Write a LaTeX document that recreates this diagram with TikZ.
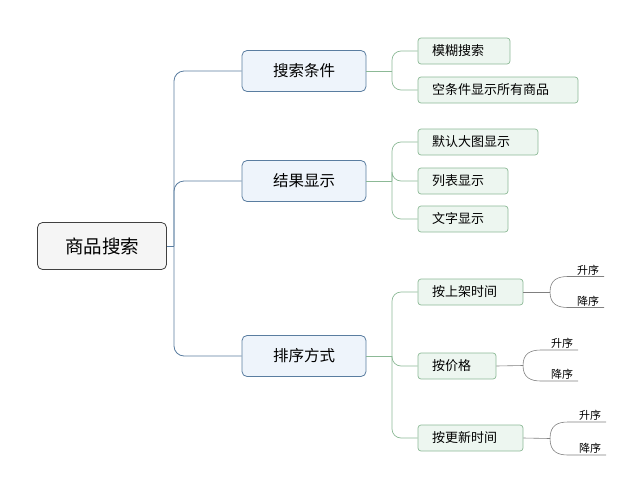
\documentclass[tikz,border=0pt]{standalone}
\usepackage{fontspec}
\setmainfont{Noto Sans CJK SC}
\definecolor{bl}{RGB}{90,125,160}
\definecolor{blf}{RGB}{238,244,251}
\definecolor{gr}{RGB}{140,185,150}
\definecolor{grf}{RGB}{237,246,240}
\begin{document}
\begin{tikzpicture}[x=1pt,y=-1pt,
 root/.style={draw=black!75,fill=black!4,rounded corners=5pt,minimum width=129pt,minimum height=47pt,font=\fontsize{18.5}{20}\selectfont,line width=0.8pt},
 l1/.style={draw=bl,fill=blf,rounded corners=5pt,minimum width=124pt,minimum height=41pt,font=\fontsize{15.5}{17}\selectfont,line width=0.8pt},
 l2/.style={draw=gr,fill=grf,rounded corners=3pt,minimum height=26pt,inner xsep=14pt,align=left,text width=#1,font=\fontsize{13}{14}\selectfont,line width=0.7pt},
 leaf/.style={font=\fontsize{11}{12}\selectfont,inner sep=1pt},
 c1/.style={draw=bl,line width=0.8pt,rounded corners=10pt},
 c2/.style={draw=gr,line width=0.7pt,rounded corners=9pt},
 c3/.style={draw=black!50,line width=0.6pt}]
\useasboundingbox (0,0) rectangle (642,493);
\node[root] (r) at (102,246) {商品搜索};
\node[l1] (a) at (304,71) {搜索条件};
\node[l1] (b) at (304,181) {结果显示};
\node[l1] (c) at (304,356) {排序方式};
\coordinate (t) at (174,246);
\draw[c1] (r.east) -- (t);
\foreach \n in {a,b,c}{\draw[c1] (t) |- (\n.west);}
\node[l2=64pt] (a1) at (464,51) {模糊搜索};
\node[l2=132pt] (a2) at (498,90) {空条件显示所有商品};
\node[l2=92pt] (b1) at (478,142) {默认大图显示};
\node[l2=62pt] (b2) at (463,181) {列表显示};
\node[l2=62pt] (b3) at (463,219) {文字显示};
\node[l2=77pt] (c1) at (470.5,292) {按上架时间};
\node[l2=50pt] (c2) at (457,366) {按价格};
\node[l2=77pt] (c3) at (470.5,438) {按更新时间};
\coordinate (fa) at (392,71);
\coordinate (fb) at (392,181);
\coordinate (fc) at (392,356);
\draw[c2] (a.east) -- (fa); \draw[c2] (fa) |- (a1.west); \draw[c2] (fa) |- (a2.west);
\draw[c2] (b.east) -- (fb); \draw[c2] (fb) |- (b1.west); \draw[c2] (fb) |- (b2.west); \draw[c2] (fb) |- (b3.west);
\draw[c2] (c.east) -- (fc); \draw[c2] (fc) |- (c1.west); \draw[c2] (fc) |- (c2.west); \draw[c2] (fc) |- (c3.west);
\foreach \p/\fx/\x/\y/\h in {c1/550/588/292/15.5, c2/523/562/365.5/15.5, c3/550/590/438.5/16.5}{
  \coordinate (\p f) at (\fx,\y);
  \coordinate (\p u) at (\fx+18,\y-\h);
  \coordinate (\p d) at (\fx+18,\y+\h);
  \coordinate (\p ue) at (\x+16,\y-\h);
  \coordinate (\p de) at (\x+16,\y+\h);
  \node[leaf,anchor=south] (\p up) at (\x,\y-\h) {升序};
  \node[leaf,anchor=south] (\p dn) at (\x,\y+\h) {降序};
  \draw[c3] (\p.east) -- (\p f);
  \draw[c3] (\p f) .. controls (\fx,\y-\h+3) and (\fx+8,\y-\h) .. (\p u) -- (\p ue);
  \draw[c3] (\p f) .. controls (\fx,\y+\h-3) and (\fx+8,\y+\h) .. (\p d) -- (\p de);
}
\end{tikzpicture}
\end{document}
